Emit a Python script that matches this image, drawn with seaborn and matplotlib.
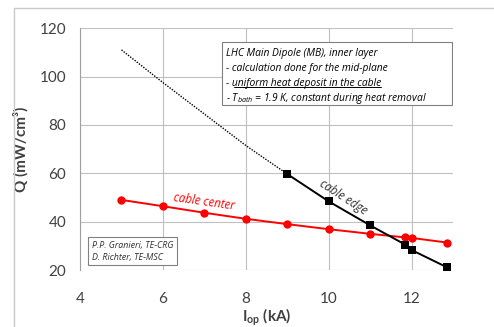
import pandas as pd
import seaborn as sns
import matplotlib.pyplot as plt
from matplotlib.patches import Rectangle

# cable center (red)
center_I = [5, 6, 7, 8, 9, 10, 11, 11.85, 12, 12.85]
center_Q = [49.0, 46.4, 43.7, 41.2, 39.0, 36.9, 35.0, 33.5, 33.3, 31.4]

# cable edge (black)
edge_I = [9, 10, 11, 11.85, 12, 12.85]
edge_Q = [59.7, 48.4, 38.5, 30.5, 28.3, 21.2]

# dotted extrapolation of cable edge
extrap_I = [5, 6, 7, 8, 9]
extrap_Q = [111.0, 97.5, 84.5, 71.5, 59.7]

note_lines = ["LHC Main Dipole (MB), inner layer",
              "- calculation done for the mid-plane",
              "- uniform heat deposit in the cable",
              r"- T$_{bath}$ = 1.9 K, constant during heat removal"]
author_lines = ["P.P. Granieri, TE-CRG", "D. Richter, TE-MSC"]

sns.set_style("white")
plt.rcParams['font.family'] = ['Lato', 'DejaVu Sans']
plt.rcParams['mathtext.fontset'] = 'custom'
plt.rcParams['mathtext.it'] = 'Open Sans:italic'
plt.rcParams['mathtext.rm'] = 'Open Sans'
plt.rcParams['mathtext.bf'] = 'Lato:bold'

fig = plt.figure(figsize=(4.94, 3.27), dpi=100)
ax = fig.add_axes([0.162, 0.174, 0.755, 0.74])

center = pd.DataFrame({"I": center_I, "Q": center_Q})
edge = pd.DataFrame({"I": edge_I, "Q": edge_Q})
extrap = pd.DataFrame({"I": extrap_I, "Q": extrap_Q})

sns.lineplot(data=extrap, x="I", y="Q", ax=ax, color="black", lw=1, linestyle=(0, (1, 1)))
sns.lineplot(data=center, x="I", y="Q", ax=ax, color="#ff0000", lw=1.4,
             marker="o", markersize=6, markeredgewidth=0)
sns.lineplot(data=edge, x="I", y="Q", ax=ax, color="black", lw=1.4,
             marker="s", markersize=6, markeredgewidth=0)

ax.set_xlim(4, 13)
ax.set_ylim(20, 120)
ax.set_xticks([4, 6, 8, 10, 12])
ax.set_yticks([20, 40, 60, 80, 100, 120])
ax.grid(True, color="#c0c0c0", lw=0.8)
ax.set_axisbelow(True)
for s in ["top", "right", "bottom"]:
    ax.spines[s].set_visible(False)
ax.spines["left"].set_color("#a0a0a0")
ax.spines["left"].set_linewidth(0.8)
ax.tick_params(axis="both", length=4, color="#a0a0a0", labelsize=11, labelcolor="#404040", pad=6)
ax.tick_params(axis="x", pad=12)

ax.set_xlabel(r"I$_{\mathbf{op}}$ (kA)", fontsize=11, fontweight="bold", color="#404040", labelpad=0)
ax.set_ylabel("Q (mW/cm³)", fontsize=11, fontweight="bold", color="#404040", labelpad=8)

ital = dict(family=["Open Sans", "DejaVu Sans"], style="italic")

ax.text(7.0, 48.3, "cable center", color="#ff0000", fontsize=8.3, rotation=-8,
        ha="center", va="center", **ital)
ax.text(10.36, 50.2, "cable edge", color="#303030", fontsize=8.3, rotation=-33,
        ha="center", va="center", **ital)

# note box
ax.add_patch(Rectangle((7.43, 88.2), 5.55, 26, fill=True, fc="white", ec="#808080", lw=0.8, zorder=4))
note_y = [109.7, 103.5, 97.3, 91.1]
texts = []
for s, y in zip(note_lines, note_y):
    texts.append(ax.text(7.52, y, s, fontsize=7.4, va="center", ha="left", color="black",
                         zorder=5, **ital))

fig.canvas.draw()
bb = texts[2].get_window_extent().transformed(ax.transData.inverted())
x0 = 7.52 + (bb.x1 - bb.x0) * 0.05
ax.plot([x0, bb.x1], [bb.y0 + 0.6, bb.y0 + 0.6], color="black", lw=0.7, zorder=6)

# author box
ax.add_patch(Rectangle((4.19, 22.0), 2.16, 11.6, fill=True, fc="white", ec="#808080", lw=0.8, zorder=4))
for s, y in zip(author_lines, [30.3, 25.4]):
    ax.text(4.28, y, s, fontsize=6.4, va="center", ha="left", color="#303030", zorder=5, **ital)

fig.patches.append(Rectangle((14 / 494, -0.1), 1.2, 1 - 8 / 327 + 0.1, transform=fig.transFigure,
                             fill=False, ec="#c8c8c8", lw=1))

fig.savefig("out.png", dpi=100)
